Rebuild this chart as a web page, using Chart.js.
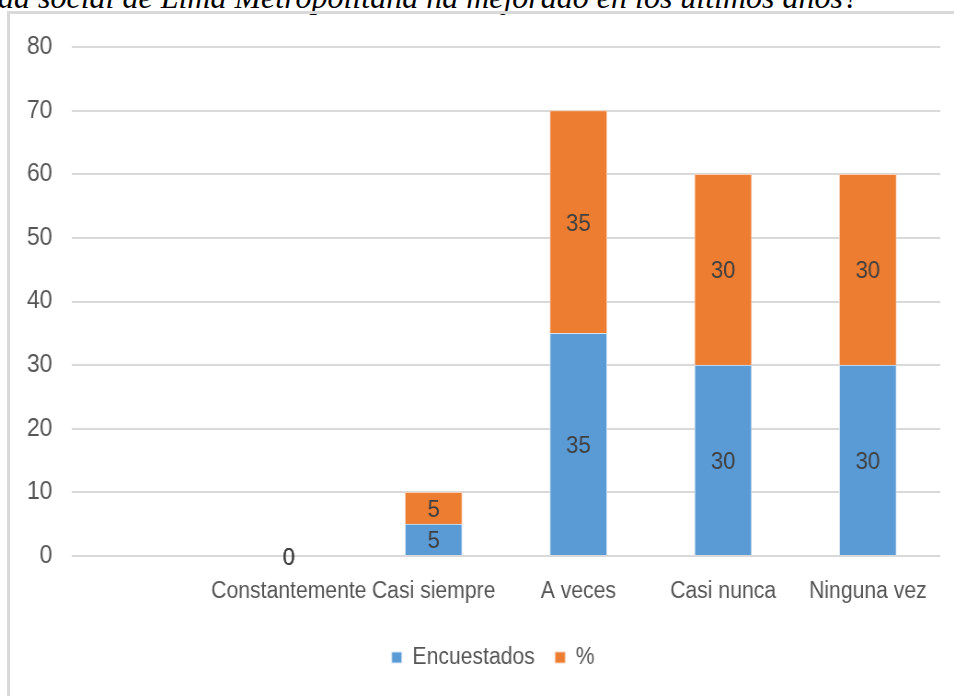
<!DOCTYPE html>
<html>
<head>
<meta charset="utf-8">
<script src="https://cdn.jsdelivr.net/npm/chart.js@4/dist/chart.umd.min.js"></script>
<style>
  html, body { margin: 0; padding: 0; background: #fff; }
  body { width: 954px; height: 696px; position: relative; overflow: hidden; }
  #title {
    position: absolute; left: -2px; top: -21px; white-space: nowrap;
    font-family: "Liberation Serif", "DejaVu Serif", serif; font-style: italic;
    font-size: 32px; color: #000;
  }
  #frame {
    position: absolute; left: 7px; top: 11px; width: 960px; height: 700px;
    border: 3px solid #d9d9d9; box-sizing: border-box;
  }
  /* chart is laid out wider and squeezed back, to get the narrow Calibri look */
  #wrap {
    position: absolute; left: 0; top: 0; width: 1037px; height: 696px;
    transform: scaleX(0.92); transform-origin: 0 0;
  }
</style>
</head>
<body>
<div id="title">da social de Lima Metropolitana ha mejorado en los últimos años?</div>
<div id="frame"></div>
<div id="wrap"><canvas id="chart"></canvas></div>
<script>
const categories = ["", "Constantemente", "Casi siempre", "A veces", "Casi nunca", "Ninguna vez"];
const encuestados = [null, 0, 5, 35, 30, 30];
const porcentaje = [null, 0, 5, 35, 30, 30];
const yTicks = [0, 10, 20, 30, 40, 50, 60, 70, 80];

const FONT = "'Liberation Sans', Arial, sans-serif";

// draws the value in the middle of each stacked segment
const segmentLabels = {
  id: "segmentLabels",
  afterDatasetsDraw(chart) {
    const ctx = chart.ctx;
    ctx.save();
    ctx.font = "24px " + FONT;
    ctx.fillStyle = "#404040";
    ctx.textAlign = "center";
    ctx.textBaseline = "middle";
    chart.data.datasets.forEach((ds, i) => {
      chart.getDatasetMeta(i).data.forEach((bar, j) => {
        const v = ds.data[j];
        if (v === null || v === undefined) return;
        const y = (bar.y + bar.base) / 2;
        ctx.fillText(String(v), bar.x, y + 2);
      });
    });
    ctx.restore();
  },
};

// the legend sits a bit right of the page centre in the original
const legendShift = {
  id: "legendShift",
  afterLayout(chart) {
    chart.legend.left += 25;
    chart.legend.right += 25;
  },
};

new Chart(document.getElementById("chart"), {
  type: "bar",
  data: {
    labels: categories,
    datasets: [
      {
        label: "Encuestados",
        data: encuestados,
        backgroundColor: "#5b9bd5",
        borderColor: "#d6e6f5",
        borderWidth: 1,
        barThickness: 62,
      },
      {
        label: "%",
        data: porcentaje,
        backgroundColor: "#ed7d31",
        borderColor: "#f7cfb4",
        borderWidth: 1,
        barThickness: 62,
      },
    ],
  },
  options: {
    responsive: true,
    maintainAspectRatio: false,
    animation: false,
    layout: { padding: { left: 0, right: 15, top: 47, bottom: 17 } },
    scales: {
      x: {
        stacked: true,
        grid: { display: false },
        border: { display: false },
        ticks: { color: "#555555", font: { family: FONT, size: 23 }, padding: 14, maxRotation: 0, autoSkip: false },
        afterFit: (s) => { s.height = 68; },
      },
      y: {
        stacked: true,
        min: 0,
        max: 80,
        afterBuildTicks: (s) => { s.ticks = yTicks.map((v) => ({ value: v })); },
        grid: { color: "#d9d9d9", lineWidth: 2, drawTicks: false },
        border: { display: false },
        ticks: { color: "#555555", font: { family: FONT, size: 25 }, padding: 21 },
        afterFit: (s) => { s.width = 78; },
      },
    },
    plugins: {
      legend: {
        position: "bottom",
        labels: {
          color: "#555555",
          font: { family: FONT, size: 23 },
          boxWidth: 11,
          boxHeight: 11,
          padding: 22,
        },
      },
      tooltip: { enabled: false },
    },
  },
  plugins: [segmentLabels, legendShift],
});
</script>
</body>
</html>
